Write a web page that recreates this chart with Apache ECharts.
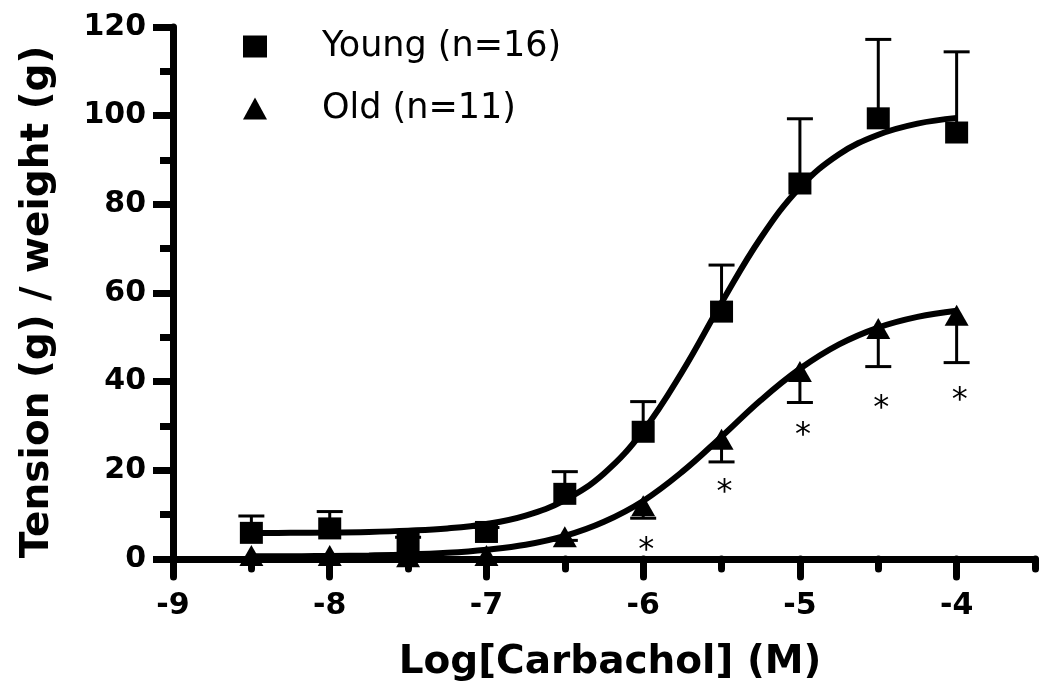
<!DOCTYPE html>
<html><head><meta charset="utf-8">
<script src="https://cdn.jsdelivr.net/npm/echarts@6/dist/echarts.min.js"></script>
<style>html,body{margin:0;padding:0;background:#fff}#c{width:1050px;height:695px}</style>
</head><body><div id="c"></div>
<script>
// ---- data ----
const doses = [-8.5, -8, -7.5, -7, -6.5, -6, -5.5, -5, -4.5, -4];
const youngMean = [5.9, 6.9, 3.9, 6.1, 14.7, 28.7, 55.8, 84.7, 99.4, 96.2];
const youngSem  = [3.8, 3.8, 1.0, 1.0, 5.0, 6.8, 10.5, 14.6, 17.8, 18.2];
const oldMean   = [0.8, 0.8, 0.5, 0.8, 5.0, 12.0, 27.0, 42.3, 52.0, 55.0];
const oldSem    = [1.0, 1.0, 1.0, 1.0, 0.8, 2.8, 5.1, 7.0, 8.6, 10.7];
const curveX    = [-8.5, -8.25, -8, -7.75, -7.5, -7.25, -7, -6.75, -6.5, -6.25, -6, -5.75, -5.5, -5.25, -5, -4.75, -4.5, -4.25, -4];
const youngCurve = [5.85, 5.9, 5.95, 6.1, 6.4, 6.9, 7.9, 9.8, 13.3, 19.3, 28.9, 42.3, 57.8, 72.4, 83.8, 91.3, 95.7, 98.2, 99.5];
const oldCurve   = [0.6, 0.6, 0.7, 0.8, 1.0, 1.4, 2.1, 3.2, 5.2, 8.4, 13.1, 19.7, 27.6, 35.8, 42.9, 48.4, 52.2, 54.6, 56.0];
const starX = [-6, -5.5, -5, -4.5, -4];
const starY = [3.5, 16.5, 29.5, 35.5, 37.4];
const xTicks = [-9, -8, -7, -6, -5, -4];
const xMinorTicks = [-8.5, -7.5, -6.5, -5.5, -4.5, -3.5];
const youngName = 'Young (n=16)';
const oldName = 'Old (n=11)';
const xTitle = 'Log[Carbachol] (M)';
const yTitle = 'Tension (g) / weight (g)';

// ---- chart ----
const chart = echarts.init(document.getElementById('c'), null, {renderer: 'canvas'});
const FONT = 'DejaVu Sans';
const AX = {color: '#000', width: 7};

function errItem(params, api) {
  const x = api.value(0), m = api.value(1), s = api.value(2), dir = api.value(3);
  const p0 = api.coord([x, m]);
  const p1 = api.coord([x, m + dir * s]);
  const st = {stroke: '#000', lineWidth: 3};
  return {type: 'group', children: [
    {type: 'line', shape: {x1: p0[0], y1: p0[1], x2: p1[0], y2: p1[1]}, style: st},
    {type: 'line', shape: {x1: p1[0] - 13, y1: p1[1], x2: p1[0] + 13, y2: p1[1]}, style: st}
  ]};
}

const option = {
  backgroundColor: '#fff',
  animation: false,
  grid: {left: 173, right: 15, top: 27, bottom: 136, containLabel: false},
  legend: {
    orient: 'vertical', left: 243, top: 29, padding: 0,
    itemWidth: 24, itemHeight: 22, itemGap: 27,
    textStyle: {fontFamily: FONT, fontSize: 35, color: '#000', padding: [0, 0, 0, 50]},
    data: [{name: youngName, icon: 'rect'}, {name: oldName, icon: 'triangle'}]
  },
  xAxis: [{
    type: 'value', min: -9, max: -3.5,
    name: xTitle, nameLocation: 'middle', nameGap: 84,
    nameTextStyle: {fontFamily: FONT, fontWeight: 'bold', fontSize: 39, color: '#000', padding: [0, 0, 0, 12]},
    axisLine: {show: true, onZero: false, lineStyle: Object.assign({cap: 'round'}, AX)},
    axisTick: {show: true, customValues: xTicks, length: 18, lineStyle: Object.assign({cap: 'round'}, AX)},
    axisLabel: {customValues: xTicks, margin: 32, fontFamily: FONT, fontWeight: 'bold', fontSize: 30, color: '#000'},
    splitLine: {show: false}
  }, {
    type: 'value', min: -9, max: -3.5, position: 'bottom',
    axisLine: {show: false},
    axisTick: {show: true, customValues: xMinorTicks, length: 10, lineStyle: Object.assign({cap: 'round'}, AX)},
    axisLabel: {show: false},
    splitLine: {show: false}
  }],
  yAxis: {
    type: 'value', min: 0, max: 120, interval: 20,
    name: yTitle, nameLocation: 'middle', nameGap: 116, nameRotate: 90,
    nameTextStyle: {fontFamily: FONT, fontWeight: 'bold', fontSize: 39, color: '#000', padding: [0, 18, 0, 0]},
    axisLine: {show: true, onZero: false, lineStyle: AX},
    axisTick: {show: true, length: 20, lineStyle: AX},
    minorTick: {show: true, splitNumber: 2, length: 13, lineStyle: AX},
    axisLabel: {margin: 27, fontFamily: FONT, fontWeight: 'bold', fontSize: 30, color: '#000'},
    splitLine: {show: false}
  },
  series: [
    {type: 'line', name: 'youngFit', data: curveX.map((x, i) => [x, youngCurve[i]]), smooth: 0.4,
     showSymbol: false, lineStyle: {color: '#000', width: 6}, z: 2, silent: true},
    {type: 'line', name: 'oldFit', data: curveX.map((x, i) => [x, oldCurve[i]]), smooth: 0.4,
     showSymbol: false, lineStyle: {color: '#000', width: 6}, z: 2, silent: true},
    {type: 'custom', name: 'youngErr', renderItem: errItem, data: doses.map((d, i) => [d, youngMean[i], youngSem[i], 1]), z: 3, clip: false},
    {type: 'custom', name: 'oldErr', renderItem: errItem, data: doses.map((d, i) => [d, oldMean[i], oldSem[i], -1]), z: 3, clip: false},
    {type: 'scatter', name: youngName, symbol: 'rect', symbolSize: [23, 22], itemStyle: {color: '#000', opacity: 1},
     data: doses.map((d, i) => [d, youngMean[i]]), z: 5},
    {type: 'scatter', name: oldName, symbol: 'triangle', symbolSize: [24, 21], itemStyle: {color: '#000', opacity: 1},
     data: doses.map((d, i) => [d, oldMean[i]]), z: 5},
    {type: 'scatter', name: 'signif', symbol: 'circle', symbolSize: 0, itemStyle: {opacity: 1},
     data: starX.map((x, i) => [x, starY[i]]),
     label: {show: true, position: 'inside', formatter: '*', offset: [3, 7], fontFamily: FONT, fontSize: 32, color: '#000'}, z: 5}
  ]
};
chart.setOption(option);
</script>
</body></html>
